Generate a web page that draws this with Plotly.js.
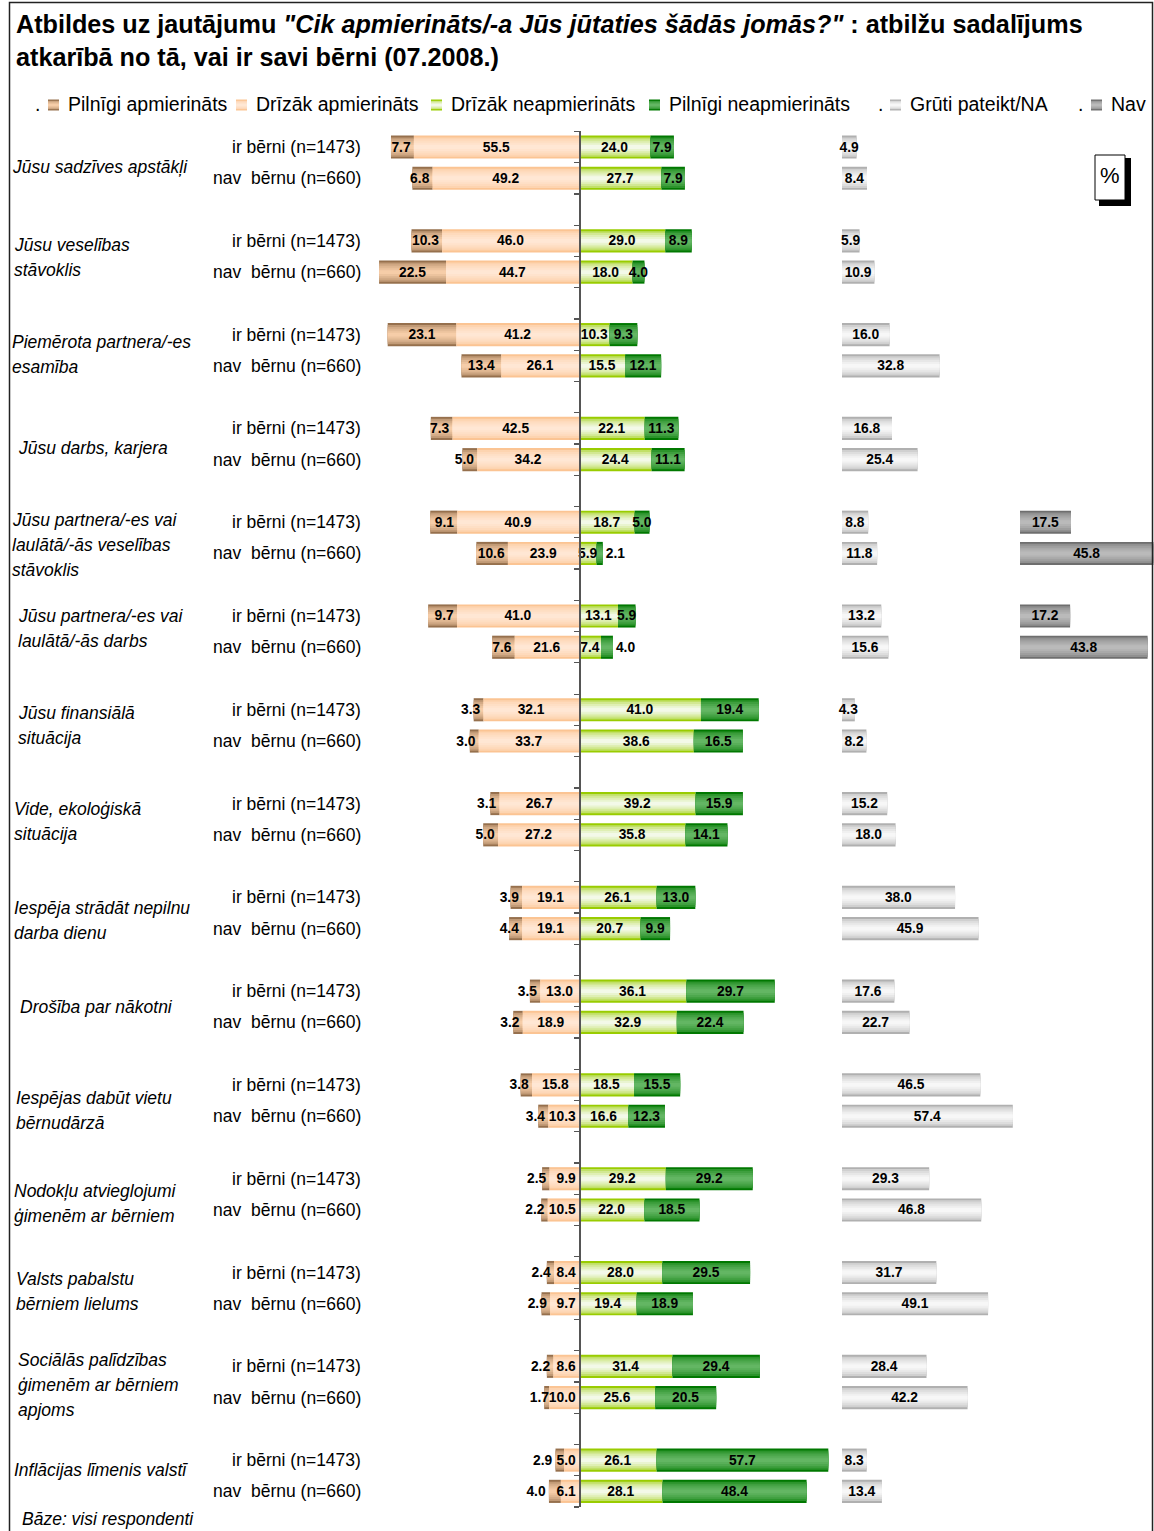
<!DOCTYPE html>
<html><head><meta charset="utf-8">
<script src="https://cdn.plot.ly/plotly-3.0.1.min.js"></script>
<style>html,body{margin:0;padding:0;background:#fff}</style>
</head><body><div id="chart" style="width:1154px;height:1531px"></div>
<script>
// ---------------- DATA ----------------
const categories = [
  'Jūsu sadzīves apstākļi',
  'Jūsu veselības<br>stāvoklis',
  'Piemērota partnera/-es<br>esamība',
  'Jūsu darbs, karjera',
  'Jūsu partnera/-es vai<br>laulātā/-ās veselības<br>stāvoklis',
  'Jūsu partnera/-es vai<br>laulātā/-ās darbs',
  'Jūsu finansiālā<br>situācija',
  'Vide, ekoloģiskā<br>situācija',
  'Iespēja strādāt nepilnu<br>darba dienu',
  'Drošība par nākotni',
  'Iespējas dabūt vietu<br>bērnudārzā',
  'Nodokļu atvieglojumi<br>ģimenēm ar bērniem',
  'Valsts pabalstu<br>bērniem lielums',
  'Sociālās palīdzības<br>ģimenēm ar bērniem<br>apjoms',
  'Inflācijas līmenis valstī'
];
const groupLabels = ['ir bērni (n=1473)', 'nav  bērnu (n=660)'];
const seriesNames = ['Pilnīgi apmierināts', 'Drīzāk apmierināts', 'Drīzāk neapmierināts',
                     'Pilnīgi neapmierināts', 'Grūti pateikt/NA', 'Nav'];

const pilnigiApmIr  = [7.7, 10.3, 23.1, 7.3, 9.1, 9.7, 3.3, 3.1, 3.9, 3.5, 3.8, 2.5, 2.4, 2.2, 2.9];
const pilnigiApmNav = [6.8, 22.5, 13.4, 5.0, 10.6, 7.6, 3.0, 5.0, 4.4, 3.2, 3.4, 2.2, 2.9, 1.7, 4.0];
const drizakApmIr   = [55.5, 46.0, 41.2, 42.5, 40.9, 41.0, 32.1, 26.7, 19.1, 13.0, 15.8, 9.9, 8.4, 8.6, 5.0];
const drizakApmNav  = [49.2, 44.7, 26.1, 34.2, 23.9, 21.6, 33.7, 27.2, 19.1, 18.9, 10.3, 10.5, 9.7, 10.0, 6.1];
const drizakNeapIr  = [24.0, 29.0, 10.3, 22.1, 18.7, 13.1, 41.0, 39.2, 26.1, 36.1, 18.5, 29.2, 28.0, 31.4, 26.1];
const drizakNeapNav = [27.7, 18.0, 15.5, 24.4, 5.9, 7.4, 38.6, 35.8, 20.7, 32.9, 16.6, 22.0, 19.4, 25.6, 28.1];
const pilnigiNeapIr = [7.9, 8.9, 9.3, 11.3, 5.0, 5.9, 19.4, 15.9, 13.0, 29.7, 15.5, 29.2, 29.5, 29.4, 57.7];
const pilnigiNeapNav= [7.9, 4.0, 12.1, 11.1, 2.1, 4.0, 16.5, 14.1, 9.9, 22.4, 12.3, 18.5, 18.9, 20.5, 48.4];
const grutiIr       = [4.9, 5.9, 16.0, 16.8, 8.8, 13.2, 4.3, 15.2, 38.0, 17.6, 46.5, 29.3, 31.7, 28.4, 8.3];
const grutiNav      = [8.4, 10.9, 32.8, 25.4, 11.8, 15.6, 8.2, 18.0, 45.9, 22.7, 57.4, 46.8, 49.1, 42.2, 13.4];
const navIr         = [null, null, null, null, 17.5, 17.2, null, null, null, null, null, null, null, null, null];
const navNav        = [null, null, null, null, 45.8, 43.8, null, null, null, null, null, null, null, null, null];

// ---------------- STYLE ----------------
const W = 1154, H = 1531;
const PXU = 2.975;          // pixels per percentage point
const CENTER = 579;         // pixel x of the 0 line
const FONT = 'Liberation Sans, Arial, sans-serif';
const BW = 0.74;            // bar thickness (slots)
const LAYERS = 6;
const LABEL_SIZE = 13.8;
const edgeColors = ['#96704d', '#fbc493', '#99cc00', '#007800', '#b0b0b0', '#6e6e6e'];
const midColors  = ['#f6cda8', '#ffe7d4', '#f3f9e8', '#63b663', '#f7f7f7', '#bababa'];
// per-category label placement (pixels): left edge and vertical nudge
const catLabelX  = [10, 12, 10, 16, 10, 16, 16, 12, 12, 18, 14, 12, 14, 16, 12];
const catLabelDy = [4.5, 1.5, 4.5, 3.5, 7.5, -3.5, 0, 2.5, 8, 0, 10, 9.5, 3, 3, -6];
const px = x => x / W, py = y => 1 - y / H;

function hex2rgb(h){ h=h.replace('#',''); return [0,2,4].map(i=>parseInt(h.substr(i,2),16)); }
function mix(a,b,t){ const A=hex2rgb(a),B=hex2rgb(b); return 'rgb('+A.map((v,i)=>Math.round(v+(B[i]-v)*t)).join(',')+')'; }

const N = categories.length;
function inter(a,b){ const r=[]; for(let i=0;i<N;i++){ r.push(a[i], b[i]); } return r; }
const Y  = inter(categories.map((_,i)=>3*i), categories.map((_,i)=>3*i+1));
const PA = inter(pilnigiApmIr, pilnigiApmNav);
const DA = inter(drizakApmIr, drizakApmNav);
const DN = inter(drizakNeapIr, drizakNeapNav);
const PN = inter(pilnigiNeapIr, pilnigiNeapNav);
const GP = inter(grutiIr, grutiNav);
const NV = inter(navIr, navNav);

// small labels on the left side are anchored at the bar's inner edge (as in the original)
const series = [
  {vals: PA, x: PA.map(v=>-v), base: DA.map(v=>-v), axis: 'x',  outside: [28, 29], anchorSmall: true},
  {vals: DA, x: DA.map(v=>-v), base: 0,             axis: 'x',  outside: [],   anchorSmall: true},
  {vals: DN, x: DN,            base: 0,             axis: 'x',  outside: [],   anchorSmall: false},
  {vals: PN, x: PN,            base: DN,            axis: 'x',  outside: [9, 11], anchorSmall: false},
  {vals: GP, x: GP,            base: 0,             axis: 'x2', outside: [],   anchorSmall: false},
  {vals: NV, x: NV,            base: 0,             axis: 'x3', outside: [],   anchorSmall: false}
];

const traces = [];
series.forEach((s, si) => {
  for (let k = 0; k < LAYERS; k++) {
    const t = Math.sqrt(k / (LAYERS - 1));
    traces.push({
      type: 'bar', orientation: 'h', name: seriesNames[si],
      x: s.x, y: Y, base: s.base, xaxis: s.axis, yaxis: 'y',
      width: BW * (1 - k / LAYERS),
      marker: {color: mix(edgeColors[si], midColors[si], t), line: {width: 0}},
      hoverinfo: 'skip', showlegend: false
    });
  }
});
const tf = {family: FONT, size: LABEL_SIZE, color: '#000', weight: 'bold'};
series.forEach((s, si) => {
  const isStart = s.vals.map((v, i) => s.anchorSmall && v != null && v * PXU < 35 && !s.outside.includes(i));
  [false, true].forEach(startGroup => {
    traces.push({
      type: 'bar', orientation: 'h', name: seriesNames[si],
      x: s.x, y: Y, base: s.base, xaxis: s.axis, yaxis: 'y', width: BW,
      marker: {color: 'rgba(0,0,0,0)', line: {width: 0}},
      text: s.vals.map((v, i) => (v == null || isStart[i] !== startGroup) ? '' : v.toFixed(1)),
      textposition: s.vals.map((v, i) => s.outside.includes(i) ? 'outside' : 'inside'),
      insidetextanchor: startGroup ? 'start' : 'middle',
      textangle: 0, constraintext: 'none', cliponaxis: false,
      insidetextfont: tf, outsidetextfont: tf, textfont: tf,
      hoverinfo: 'skip', showlegend: false
    });
  });
});

// ---------------- ANNOTATIONS ----------------
const annotations = [];
categories.forEach((c, i) => {
  const lines = c.split('<br>');
  lines.forEach((ln, j) => {
    const dy = (j - (lines.length - 1) / 2) * 25 + catLabelDy[i];
    annotations.push({text: ln, xref: 'paper', yref: 'y', x: px(catLabelX[i]), y: 3 * i + 0.5,
      xanchor: 'left', yanchor: 'middle', yshift: -dy, showarrow: false,
      font: {family: FONT, size: 17.5, color: '#000', style: 'italic'}});
  });
  groupLabels.forEach((g, gi) => {
    annotations.push({text: g, xref: 'paper', yref: 'y', x: px(363), y: 3 * i + gi,
      xanchor: 'right', yanchor: 'middle', showarrow: false,
      font: {family: FONT, size: 17.5, color: '#000'}});
  });
});
annotations.push({text: 'Bāze: visi respondenti', xref: 'paper', yref: 'paper', x: px(20), y: py(1519),
  xanchor: 'left', yanchor: 'middle', showarrow: false,
  font: {family: FONT, size: 17.5, color: '#000', style: 'italic'}});
annotations.push({text: '%', xref: 'paper', yref: 'paper', x: px(1110), y: py(175),
  xanchor: 'center', yanchor: 'middle', showarrow: false, font: {family: FONT, size: 22, color: '#000'}});

// legend (drawn manually)
const shapes = [];
const legendTextX = [66, 254, 449, 667, 908, 1109];
const legendDots = [37, null, null, null, 880, 1080];
const LEGY = 104;
seriesNames.forEach((nm, si) => {
  annotations.push({text: nm, xref: 'paper', yref: 'paper', x: px(legendTextX[si]), y: py(LEGY),
    xanchor: 'left', yanchor: 'middle', showarrow: false, font: {family: FONT, size: 19.5, color: '#000'}});
  if (legendDots[si] != null) {
    annotations.push({text: '.', xref: 'paper', yref: 'paper', x: px(legendDots[si]), y: py(LEGY),
      xanchor: 'center', yanchor: 'middle', showarrow: false, font: {family: FONT, size: 19.5, color: '#000'}});
  }
  const x0 = legendTextX[si] - 18, x1 = x0 + 11, yc = LEGY + 1;
  for (let k = 0; k < 4; k++) {
    const h = 5.5 * (1 - k / 4);
    shapes.push({type: 'rect', xref: 'paper', yref: 'paper', x0: px(x0), x1: px(x1),
      y0: py(yc + h), y1: py(yc - h), line: {width: 0},
      fillcolor: mix(edgeColors[si], midColors[si], Math.sqrt(k / 3))});
  }
});

// frame and % box
shapes.push({type: 'rect', xref: 'paper', yref: 'paper', x0: px(9.5), x1: px(1152.5), y0: -0.01, y1: py(2.5),
  line: {color: '#222', width: 1.5}, fillcolor: 'rgba(0,0,0,0)'});
shapes.push({type: 'rect', xref: 'paper', yref: 'paper', x0: px(1099), x1: px(1131), y0: py(206), y1: py(158),
  line: {width: 0}, fillcolor: '#000'});
shapes.push({type: 'rect', xref: 'paper', yref: 'paper', x0: px(1095), x1: px(1125), y0: py(200), y1: py(155),
  line: {color: '#000', width: 1}, fillcolor: '#fff'});

const tickvals = [];
for (let v = -0.5; v <= 43.5; v += 1) tickvals.push(v);

const layout = {
  width: W, height: H, margin: {l: 0, r: 0, t: 0, b: 0},
  paper_bgcolor: '#fff', plot_bgcolor: 'rgba(0,0,0,0)',
  barmode: 'overlay', showlegend: false,
  font: {family: FONT, color: '#000'},
  uniformtext: {mode: 'show', minsize: LABEL_SIZE},
  title: {
    text: '<b>Atbildes uz jautājumu <i>"Cik apmierināts/-a Jūs jūtaties šādās jomās?"</i> : atbilžu sadalījums<br>atkarībā no tā, vai ir savi bērni (07.2008.)</b>',
    font: {family: FONT, size: 25.2, color: '#000'},
    x: px(16), xanchor: 'left', xref: 'paper', y: 1 - 33 / H, yanchor: 'top', yref: 'container'
  },
  xaxis:  {domain: [0, px(831)], range: [-CENTER / PXU, (831 - CENTER) / PXU], visible: false, fixedrange: true},
  xaxis2: {domain: [px(842), px(1015)], range: [0, (1015 - 842) / PXU], visible: false, anchor: 'y', fixedrange: true},
  xaxis3: {domain: [px(1020), 1], range: [0, 46], visible: false, anchor: 'y', fixedrange: true},
  yaxis: {domain: [py(1507), py(131.4)], range: [43.5, -0.5], anchor: 'free', position: CENTER / W,
    showline: true, linecolor: '#555', linewidth: 1.5, ticks: 'outside', ticklen: 5, tickwidth: 1.2,
    tickcolor: '#555', tickmode: 'array', tickvals: tickvals, showticklabels: false,
    showgrid: false, zeroline: false, fixedrange: true},
  annotations: annotations, shapes: shapes
};

Plotly.newPlot('chart', traces, layout, {displayModeBar: false, staticPlot: true});
</script></body></html>
